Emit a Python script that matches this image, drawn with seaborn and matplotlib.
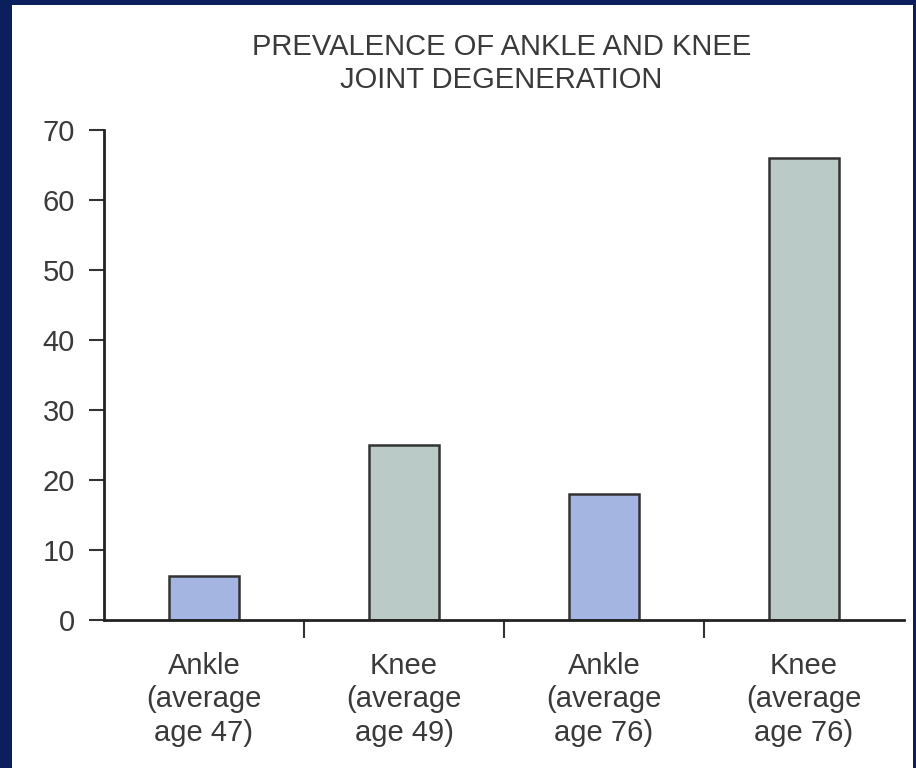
import matplotlib.pyplot as plt
import matplotlib.patches as mpatches
import pandas as pd
import seaborn as sns

# data
groups = ["Ankle\n(average\nage 47)", "Knee\n(average\nage 49)",
          "Ankle\n(average\nage 76)", "Knee\n(average\nage 76)"]
prevalence = [6.3, 25, 18, 66]
bar_colors = ["#a3b5e0", "#bacac7", "#a3b5e0", "#bacac7"]
y_ticks = [0, 10, 20, 30, 40, 50, 60, 70]
title = "PREVALENCE OF ANKLE AND KNEE\nJOINT DEGENERATION"

navy = "#0b1f5c"
ink = "#3a3a3a"

df = pd.DataFrame({"group": groups, "value": prevalence})

sns.set_style("white")
plt.rcParams["font.family"] = ["Liberation Sans", "DejaVu Sans"]

fig = plt.figure(figsize=(9.16, 7.68), dpi=100, facecolor=navy)
# white panel inside the navy frame
fig.patches.append(mpatches.Rectangle((12 / 916, 0), 901 / 916, 763 / 768,
                                      transform=fig.transFigure,
                                      facecolor="white", edgecolor="none", zorder=-5))

ax = fig.add_axes([104 / 916, 148 / 768, 800 / 916, 490 / 768])
ax.set_facecolor("none")
ax.set_zorder(2)

sns.barplot(data=df, x="group", y="value", hue="group", palette=bar_colors,
            width=0.35, edgecolor="#333333", linewidth=1.8, legend=False,
            saturation=1, ax=ax)

ax.set_xlim(-0.5, 3.5)
ax.set_ylim(0, 70)
ax.set_yticks(y_ticks)
ax.set_xlabel("")
ax.set_ylabel("")

# separator ticks between groups, labels under the bars
ax.set_xticks([0.5, 1.5, 2.5])
ax.set_xticklabels([])
ax.set_xticks(range(len(groups)), groups, minor=True)
ax.tick_params(axis="x", which="major", direction="out", length=13, width=1.5,
               color="#333333", bottom=True)
ax.tick_params(axis="x", which="minor", length=0, pad=23, labelsize=21,
               labelcolor=ink)
for t in ax.get_xticklabels(minor=True):
    t.set_linespacing(1.25)
ax.tick_params(axis="y", direction="out", length=11, width=1.5, color="#333333",
               pad=10, labelsize=21, labelcolor=ink, left=True)

sns.despine(ax=ax)
for side in ["left", "bottom"]:
    ax.spines[side].set_color("#222222")
    ax.spines[side].set_linewidth(2)

fig.text(0.5475, 1 - 33 / 768, title, ha="center", va="top", fontsize=21,
         color=ink, linespacing=1.25, zorder=3)

fig.savefig("out.png", dpi=100, facecolor=navy)
